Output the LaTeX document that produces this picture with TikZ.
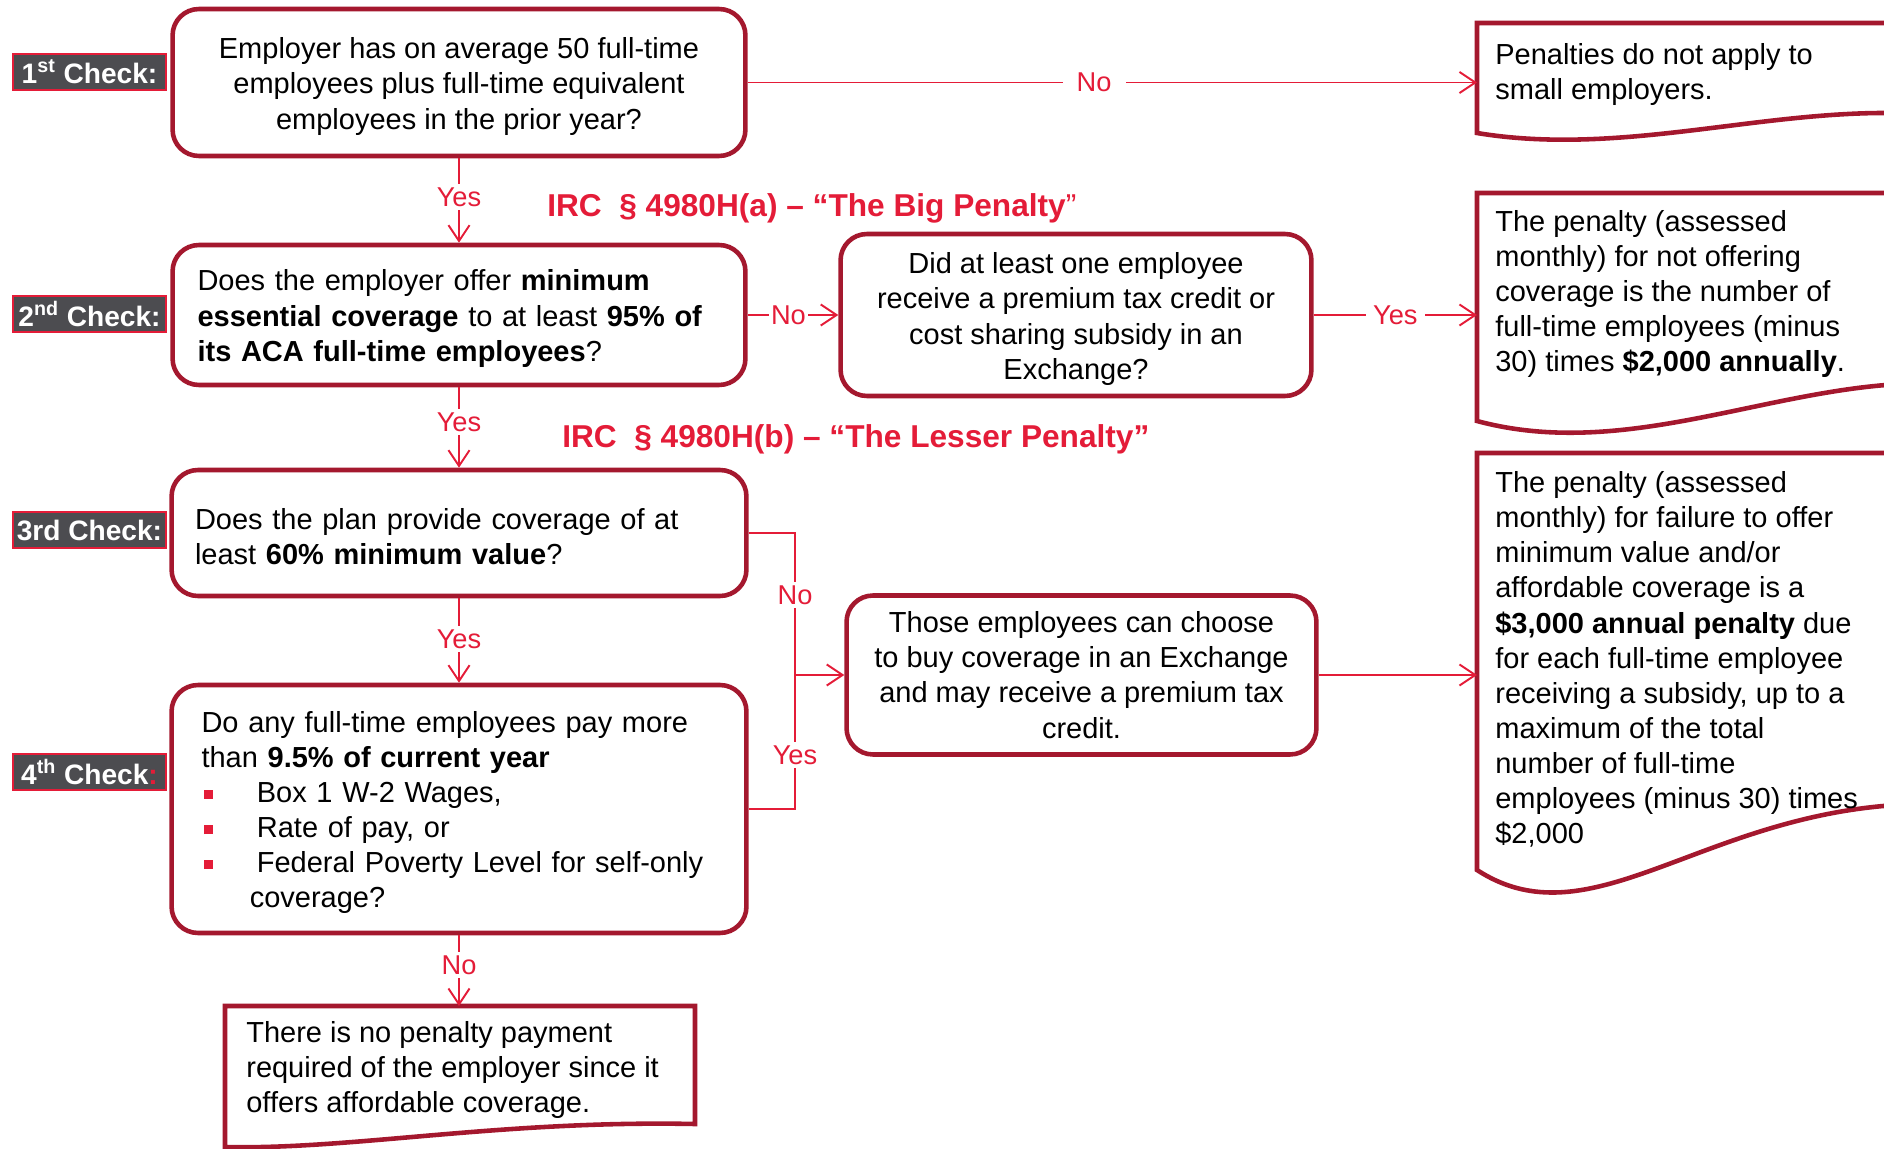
\documentclass[tikz,border=0pt]{standalone}
\usepackage{fontspec}
\setmainfont{Liberation Sans}
\usetikzlibrary{arrows.meta}
\definecolor{boxred}{RGB}{164,24,46}
\definecolor{linered}{RGB}{228,28,56}
\definecolor{chkgray}{RGB}{76,76,80}
\newcommand{\boxfont}{\fontsize{16.5}{20}\selectfont}
\newcommand{\redbul}{\makebox[31.5pt][l]{\hspace{1.5pt}\textcolor{linered}{\rule[2pt]{5pt}{5pt}}}}
\tikzset{
  qbox/.style={draw=boxred, line width=2.6pt, rounded corners=15pt, fill=white, font=\boxfont, inner sep=0pt,
    execute at begin node=\rule{0pt}{16pt}},
  chktag/.style={fill=chkgray, draw=linered, line width=1.2pt, text=white, font=\fontsize{16}{19}\selectfont\bfseries,
    minimum width=3.06cm, minimum height=0.72cm, inner sep=0pt},
  docline/.style={draw=boxred, line width=2.6pt},
  doctxt/.style={font=\boxfont, align=left, inner sep=0pt, anchor=west},
  flow/.style={draw=linered, line width=1.1pt},
  arr/.style={flow, -{Straight Barb[length=9pt,width=12pt]}},
  lbl/.style={fill=white, text=linered, font=\fontsize{15.5}{18}\selectfont, inner sep=2pt},
  irc/.style={text=linered, font=\fontsize{18}{21}\selectfont\bfseries, anchor=west, inner sep=0pt}
}

\begin{document}
\begin{tikzpicture}[x=0.02cm, y=-0.02cm]
        \useasboundingbox (0,0) rectangle (1884,1149);
        \clip (0,0) rectangle (1884,1149);

        \node[chktag] (tag1) at (89.5,72) {1\textsuperscript{st} Check:};
        \node[chktag] (tag2) at (89.5,314) {2\textsuperscript{nd} Check:};
        \node[chktag] (tag3) at (89.5,530) {3rd Check:};
        \node[chktag] (tag4) at (89.5,772) {4\textsuperscript{th} Check\textcolor{linered}{:}};

        \node[qbox, minimum width=11.46cm, minimum height=2.94cm, align=center] (chk1) at (459,82.5)
          {\rule{0pt}{16.5pt}Employer has on average 50 full-time\\employees plus full-time equivalent\\employees in the prior year?};
        \node[qbox, minimum width=11.46cm, minimum height=2.8cm, text width=10.46cm, align=left] (chk2) at (459,315)
          {Does the employer offer \textbf{minimum}\\\textbf{essential coverage} to at least \textbf{95\% of}\\\textbf{its ACA full-time employees}?};
        \node[qbox, minimum width=11.5cm, minimum height=2.52cm, text width=10.56cm, align=left] (chk3) at (459,533)
          {Does the plan provide coverage of at\\least \textbf{60\% minimum value}?};
        \node[qbox, minimum width=11.5cm, minimum height=4.96cm, text width=10.3cm, align=left] (chk4) at (459,809)
          {Do any full-time employees pay more\\than \textbf{9.5\% of current year}\\
           \redbul Box 1 W-2 Wages,\\\redbul Rate of pay, or\\\redbul Federal Poverty Level for self-only\\
           \hspace*{27.5pt}coverage?};
        \node[qbox, minimum width=9.42cm, minimum height=3.24cm, align=center] (credit) at (1076,315)
          {\rule{0pt}{16.5pt}Did at least one employee\\receive a premium tax credit or\\cost sharing subsidy in an\\Exchange?};
        \node[qbox, minimum width=9.4cm, minimum height=3.18cm, align=center] (exch) at (1081.5,675)
          {Those employees can choose\\to buy coverage in an Exchange\\and may receive a premium tax\\credit.};

        \draw[docline] (1477,133) -- (1477,23) -- (1960,23) -- (1960,118) .. controls (1800,95) and (1640,160) .. (1477,133) -- cycle;
        \draw[docline] (1477,421) -- (1477,193) -- (1960,193) -- (1960,385) .. controls (1800,370) and (1640,465) .. (1477,421) -- cycle;
        \draw[docline] (1477,870) -- (1477,453) -- (1960,453) -- (1960,805) .. controls (1720,790) and (1600,950) .. (1477,870) -- cycle;
        \draw[docline] (225,1147) -- (225,1006) -- (695,1006) -- (695,1124) .. controls (500,1120) and (350,1150) .. (225,1147) -- cycle;

        \node[doctxt] (pen1) at (1495,74.5) {Penalties do not apply to\\small employers.};
        \node[doctxt] (pen2) at (1495,294)
          {The penalty (assessed\\monthly) for not offering\\coverage is the number of\\full-time employees (minus\\30) times \textbf{\$2,000 annually}.};
        \node[doctxt] (pen3) at (1495,659.5)
          {The penalty (assessed\\monthly) for failure to offer\\minimum value and/or\\affordable coverage is a\\\textbf{\$3,000 annual penalty} due\\for each full-time employee\\receiving a subsidy, up to a\\maximum of the total\\number of full-time\\employees (minus 30) times\\\$2,000};
        \node[doctxt] (nopay) at (246,1070)
          {There is no penalty payment\\required of the employer since it\\offers affordable coverage.};

        \node[irc] (irca) at (547,208.5) {IRC\ \ § 4980H(a) – “The Big Penalty{\mdseries ”}};
        \node[irc] (ircb) at (562,439.5) {IRC\ \ § 4980H(b) – “The Lesser Penalty”};

        \coordinate (pen1w) at (1477,82.5);
        \coordinate (pen2w) at (1477,315);
        \coordinate (pen3w) at (1477,675);
        \coordinate (nopayn) at (459,1006);
        \coordinate (fork) at (795,675);

        \draw[arr] (chk1.east) -- node[lbl,pos=.475,inner xsep=8pt]{No} (pen1w);
        \draw[arr] (chk1) -- node[lbl,pos=.46]{Yes} (chk2);
        \draw[arr] (chk2.east) -- node[lbl,pos=.45,inner xsep=1pt]{No} (credit.west);
        \draw[arr] (credit.east) -- node[lbl,inner xsep=4pt]{Yes} (pen2w);
        \draw[arr] (chk2) -- node[lbl,pos=.43]{Yes} (chk3);
        \draw[arr] (chk3) -- node[lbl,pos=.48]{Yes} (chk4);
        \draw[flow] (chk3.east) -| node[lbl,pos=.72]{No} (fork);
        \draw[flow] (chk4.east) -| node[lbl,pos=.7]{Yes} (fork);
        \draw[arr] (fork) -- (exch.west);
        \draw[arr] (exch.east) -- (pen3w);
        \draw[arr] (chk4) -- node[lbl,pos=.42]{No} (nopayn);
      \end{tikzpicture}
\end{document}
